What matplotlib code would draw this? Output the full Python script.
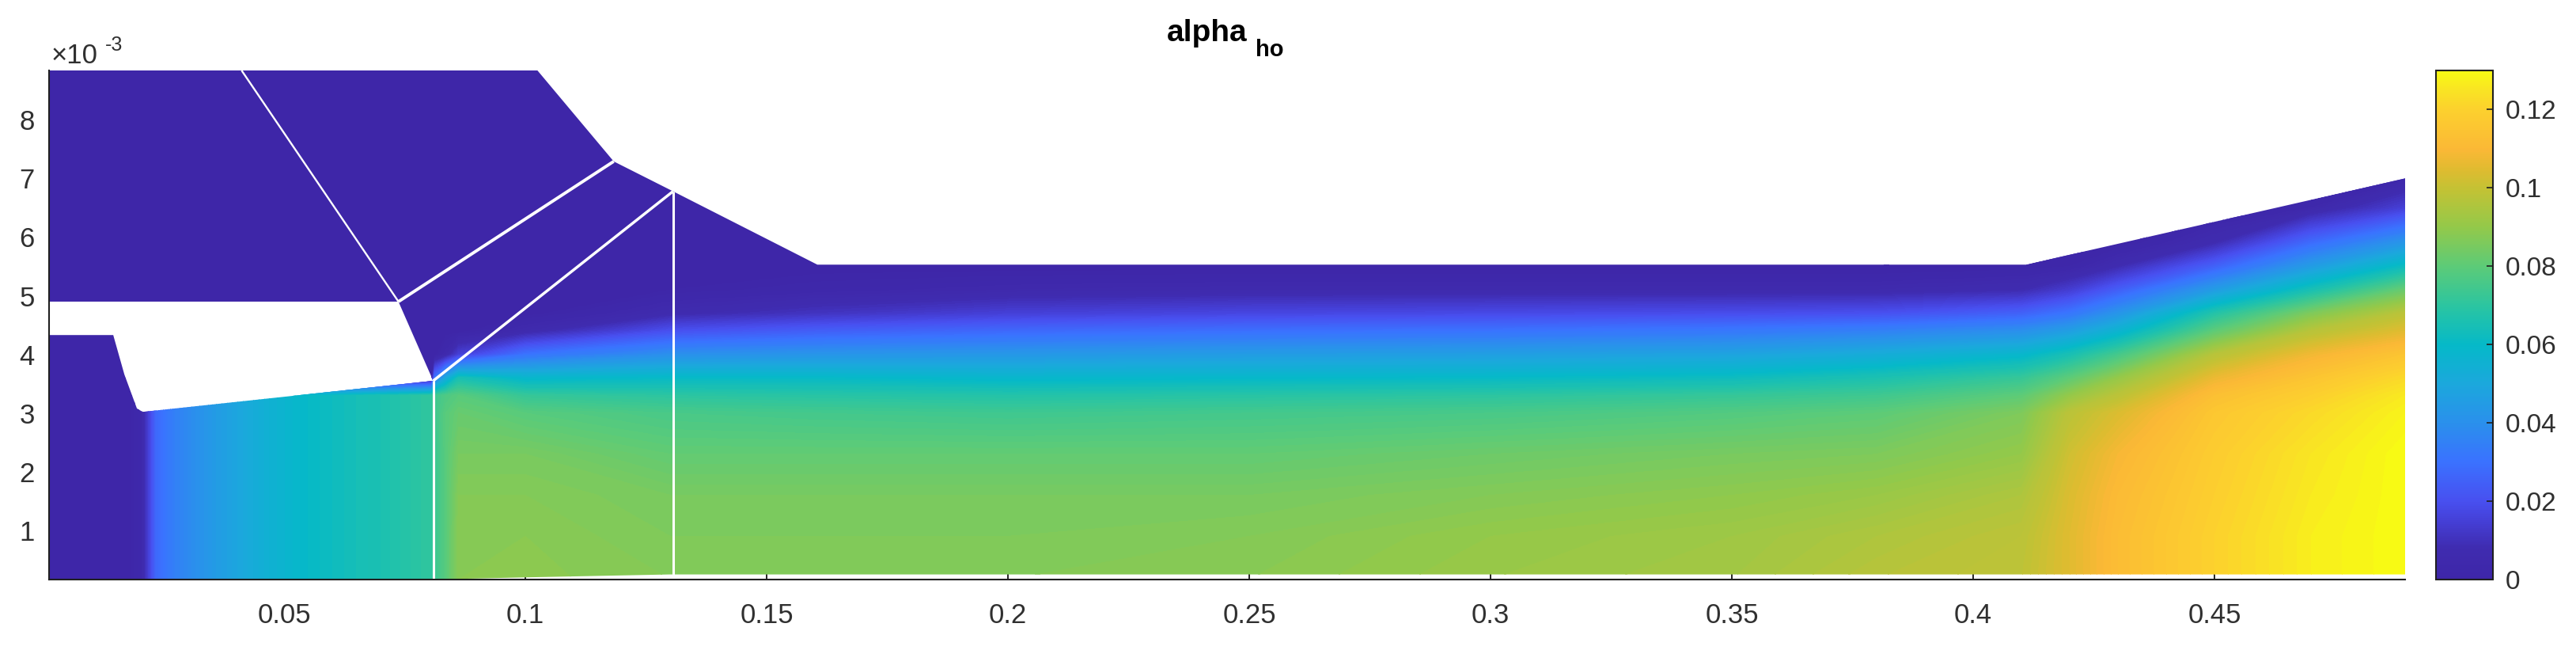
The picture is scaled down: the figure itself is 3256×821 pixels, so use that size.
# -*- coding: utf-8 -*-
"""alpha_ho field over the nozzle geometry, MATLAB style figure."""

import matplotlib

matplotlib.use("Agg")
import matplotlib.pyplot as plt
import numpy as np
from matplotlib.cm import ScalarMappable
from matplotlib.colors import LinearSegmentedColormap, Normalize
from matplotlib.patches import PathPatch
from matplotlib.path import Path

plt.rcParams["font.family"] = ["Liberation Sans", "DejaVu Sans"]

TEXT_COLOR = "#303030"
WIDTH, HEIGHT = 3256, 821

# y is in units of 1e-3, as on the axis
x_limits = (0.0013, 0.4895)
y_limits = (0.163, 8.84)
x_ticks = [0.05, 0.1, 0.15, 0.2, 0.25, 0.3, 0.35, 0.4, 0.45]
x_tick_labels = ["0.05", "0.1", "0.15", "0.2", "0.25", "0.3", "0.35", "0.4", "0.45"]
y_ticks = [1, 2, 3, 4, 5, 6, 7, 8]
color_ticks = [0, 0.02, 0.04, 0.06, 0.08, 0.1, 0.12]
color_tick_labels = ["0", "0.02", "0.04", "0.06", "0.08", "0.1", "0.12"]
color_max = 0.13

# domain outline
outline_x = [0.0013, 0.1025, 0.1183, 0.1306, 0.1605, 0.411, 0.4895, 0.4895, 0.13,
             0.1, 0.0809, 0.0013, 0.0013, 0.0146, 0.0169, 0.0195, 0.0207, 0.0809,
             0.0737, 0.0013]
outline_y = [8.84, 8.84, 7.29, 6.78, 5.53, 5.53, 7.0, 0.25, 0.25,
             0.2, 0.163, 0.163, 4.33, 4.33, 3.66, 3.08, 3.02, 3.55,
             4.9, 4.9]

# white block boundaries: (x0, x1, y0, y1, width)
block_lines = [
    (0.0412, 0.0737, 8.84, 4.9, 1.7),
    (0.0737, 0.1183, 4.9, 7.29, 2.8),
    (0.0809, 0.1306, 3.55, 6.78, 2.5),
    (0.0809, 0.0809, 3.55, 0.163, 2.2),
    (0.1306, 0.1306, 6.78, 0.25, 2.2),
]

# field samples
station_x = [0.0013, 0.0185, 0.0205, 0.0235, 0.0275, 0.036, 0.047, 0.055, 0.07,
             0.0805, 0.0812, 0.0835, 0.0862, 0.1, 0.13, 0.16, 0.2, 0.25, 0.3,
             0.35, 0.38, 0.41, 0.42, 0.43, 0.45, 0.47, 0.4895]
level_y = [0.16, 0.9, 1.6, 2.3, 3.0, 3.3, 3.6, 4.0, 4.4, 4.7, 5.1, 5.5, 5.9, 6.5, 7.0, 8.85]
alpha_by_station = [
    [0.001, 0.001, 0.001, 0.001, 0.001, 0.001, 0, 0, 0, 0, 0, 0, 0, 0, 0, 0],
    [0.001, 0.001, 0.001, 0.001, 0.001, 0.001, 0, 0, 0, 0, 0, 0, 0, 0, 0, 0],
    [0.004, 0.004, 0.004, 0.004, 0.004, 0.004, 0, 0, 0, 0, 0, 0, 0, 0, 0, 0],
    [0.027, 0.027, 0.027, 0.027, 0.027, 0.027, 0, 0, 0, 0, 0, 0, 0, 0, 0, 0],
    [0.035, 0.035, 0.035, 0.035, 0.035, 0.035, 0, 0, 0, 0, 0, 0, 0, 0, 0, 0],
    [0.045, 0.045, 0.045, 0.045, 0.045, 0.045, 0, 0, 0, 0, 0, 0, 0, 0, 0, 0],
    [0.055, 0.055, 0.055, 0.055, 0.055, 0.055, 0, 0, 0, 0, 0, 0, 0, 0, 0, 0],
    [0.06, 0.06, 0.06, 0.06, 0.06, 0.06, 0, 0, 0, 0, 0, 0, 0, 0, 0, 0],
    [0.066, 0.066, 0.066, 0.066, 0.066, 0.066, 0, 0, 0, 0, 0, 0, 0, 0, 0, 0],
    [0.071, 0.071, 0.071, 0.071, 0.071, 0.071, 0, 0, 0, 0, 0, 0, 0, 0, 0, 0],
    [0.073, 0.073, 0.073, 0.073, 0.074, 0.074, 0.03, 0, 0, 0, 0, 0, 0, 0, 0, 0],
    [0.079, 0.079, 0.079, 0.079, 0.079, 0.077, 0.05, 0.005, 0, 0, 0, 0, 0, 0, 0, 0],
    [0.088, 0.088, 0.087, 0.085, 0.082, 0.079, 0.065, 0.015, 0, 0, 0, 0, 0, 0, 0, 0],
    [0.0885, 0.088, 0.087, 0.085, 0.079, 0.072, 0.058, 0.03, 0.006, 0, 0, 0, 0, 0, 0, 0],
    [0.087, 0.086, 0.085, 0.081, 0.076, 0.07, 0.06, 0.04, 0.02, 0.007, 0.001, 0, 0, 0, 0, 0],
    [0.087, 0.086, 0.085, 0.081, 0.075, 0.069, 0.06, 0.042, 0.024, 0.011, 0.003, 0, 0, 0, 0, 0],
    [0.087, 0.086, 0.085, 0.081, 0.074, 0.068, 0.058, 0.043, 0.027, 0.015, 0.005, 0, 0, 0, 0, 0],
    [0.088, 0.087, 0.085, 0.081, 0.075, 0.069, 0.059, 0.045, 0.029, 0.017, 0.006, 0, 0, 0, 0, 0],
    [0.091, 0.09, 0.087, 0.083, 0.076, 0.07, 0.06, 0.046, 0.03, 0.018, 0.006, 0, 0, 0, 0, 0],
    [0.093, 0.092, 0.089, 0.085, 0.078, 0.072, 0.062, 0.048, 0.032, 0.019, 0.006, 0, 0, 0, 0, 0],
    [0.097, 0.095, 0.091, 0.086, 0.08, 0.074, 0.066, 0.052, 0.035, 0.02, 0.006, 0, 0, 0, 0, 0],
    [0.099, 0.098, 0.095, 0.09, 0.086, 0.08, 0.072, 0.058, 0.04, 0.025, 0.008, 0.001, 0, 0, 0, 0],
    [0.105, 0.105, 0.104, 0.102, 0.098, 0.09, 0.08, 0.065, 0.046, 0.031, 0.014, 0.002, 0, 0, 0, 0],
    [0.112, 0.112, 0.111, 0.109, 0.104, 0.098, 0.09, 0.075, 0.056, 0.042, 0.024, 0.008, 0, 0, 0, 0],
    [0.12, 0.12, 0.119, 0.118, 0.116, 0.113, 0.107, 0.097, 0.08, 0.068, 0.045, 0.025, 0.008, 0, 0, 0],
    [0.127, 0.127, 0.126, 0.125, 0.122, 0.119, 0.115, 0.108, 0.097, 0.086, 0.065, 0.045, 0.028, 0.004, 0, 0],
    [0.13, 0.13, 0.13, 0.13, 0.128, 0.126, 0.122, 0.115, 0.105, 0.098, 0.082, 0.062, 0.043, 0.015, 0.003, 0],
]

# colormap anchors, positions in alpha units
colormap_values = [0, 0.008, 0.015, 0.02, 0.03, 0.04, 0.05, 0.06, 0.07, 0.08, 0.09,
                   0.1, 0.105, 0.11, 0.12, 0.125, 0.13]
colormap_colors = ["#3e26a8", "#3f2cb0", "#4540d8", "#4850f0", "#3a72ff", "#2a90ec",
                   "#1ba8dc", "#05b9c8", "#2cc5a0", "#5ccb78", "#93c94a", "#c4c234",
                   "#e0bb30", "#fbb836", "#fcd02e", "#f9e324", "#f8fa14"]


def px_rect(left, top, right, bottom):
    """像素坐标 -> figure 坐标。"""
    return [left / WIDTH, 1 - bottom / HEIGHT, (right - left) / WIDTH, (bottom - top) / HEIGHT]


def main():
    fig = plt.figure(figsize=(WIDTH / 100, HEIGHT / 100), dpi=100)
    ax = fig.add_axes(px_rect(62, 89, 3040, 732))
    cax = fig.add_axes(px_rect(3079, 89, 3151, 732))

    anchors = [(v / color_max, c) for v, c in zip(colormap_values, colormap_colors)]
    cmap = LinearSegmentedColormap.from_list("parula_like", anchors, N=256)
    norm = Normalize(0, color_max)

    # 用 contourf 在数值上插值，这样颜色走的是 colormap
    field = np.array(alpha_by_station).T
    levels = np.linspace(0, color_max, 131)
    contours = ax.contourf(station_x, level_y, field, levels=levels, cmap=cmap, norm=norm,
                           extend="both", antialiased=False, zorder=1)

    vertices = list(zip(outline_x, outline_y))
    outline = Path(vertices + [vertices[0]], closed=True)
    clip = PathPatch(outline, transform=ax.transData, facecolor="none", edgecolor="none")
    ax.add_patch(clip)
    contours.set_clip_path(clip)

    for x0, x1, y0, y1, width in block_lines:
        ax.plot([x0, x1], [y0, y1], color="white", lw=width, zorder=2, solid_capstyle="butt")

    ax.set_xlim(*x_limits)
    ax.set_ylim(*y_limits)
    ax.set_axisbelow(True)
    ax.set_xticks(x_ticks, x_tick_labels)
    ax.set_yticks(y_ticks, [str(v) for v in y_ticks])
    ax.tick_params(axis="x", direction="in", length=5, width=1.2, pad=21, labelsize=25,
                   labelcolor=TEXT_COLOR)
    ax.tick_params(axis="y", direction="in", length=5, width=1.2, pad=13, labelsize=25,
                   labelcolor=TEXT_COLOR)
    ax.spines[["top", "right"]].set_visible(False)
    ax.spines[["left", "bottom"]].set_color("#202020")
    ax.spines[["left", "bottom"]].set_linewidth(1.5)

    fig.text(1475 / WIDTH, 1 - 52 / HEIGHT, "alpha", fontsize=28, fontweight="bold", color="black")
    fig.text(1587 / WIDTH, 1 - 71 / HEIGHT, "ho", fontsize=21, fontweight="bold", color="black")

    fig.text(65 / WIDTH, 1 - 80 / HEIGHT, "×10", fontsize=25, color=TEXT_COLOR)
    fig.text(133 / WIDTH, 1 - 64 / HEIGHT, "-3", fontsize=18, color=TEXT_COLOR)

    bar = fig.colorbar(ScalarMappable(norm=norm, cmap=cmap), cax=cax)
    bar.set_ticks(color_ticks, labels=color_tick_labels)
    bar.ax.tick_params(direction="in", length=6, width=1.2, pad=11, labelsize=24,
                       labelcolor=TEXT_COLOR, color="#202020")
    bar.outline.set_edgecolor("#202020")
    bar.outline.set_linewidth(1.5)

    fig.savefig("out.png", dpi=100)
    plt.close(fig)


if __name__ == "__main__":
    main()
